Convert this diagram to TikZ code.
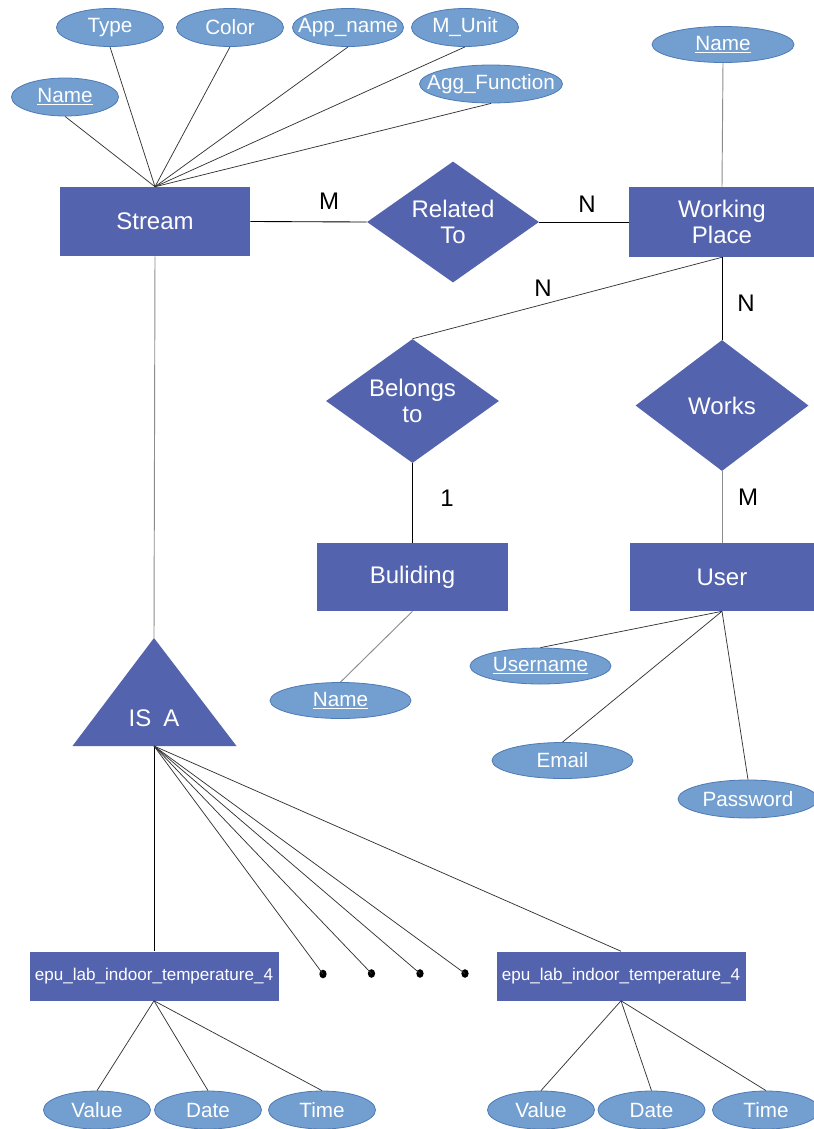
\documentclass[tikz,border=0pt]{standalone}
\usepackage{fontspec}
\setmainfont{Liberation Sans}
\usetikzlibrary{shapes.geometric}
\definecolor{entc}{RGB}{84,99,174}
\definecolor{attc}{RGB}{114,159,207}
\definecolor{attbc}{RGB}{78,122,182}
\newcommand{\zb}[1]{\makebox[0pt]{#1}}
\tikzset{
  sz/.style 2 args={minimum width=#1*0.75pt, minimum height=#2*0.75pt},
  ent/.style={rectangle, fill=entc, text=white, inner sep=0pt, align=center, font=\fontsize{18}{20}\selectfont},
  rel/.style={diamond, fill=entc, text=white, inner sep=0pt, aspect=1.42, align=center, font=\fontsize{18}{20}\selectfont},
  att/.style={ellipse, fill=attc, draw=attbc, line width=0.6pt, inner sep=0pt, text=white, font=\fontsize{15.5}{17}\selectfont, sz={107}{38}},
  sub/.style={rectangle, fill=entc, text=white, inner sep=0pt, font=\fontsize{12.8}{14}\selectfont, sz={249}{49}},
  ln/.style={black!80, line width=0.55pt},
  gln/.style={black!45, line width=0.7pt},
  rln/.style={black, line width=0.65pt},
  card/.style={text=black, font=\fontsize{18}{20}\selectfont},
  dotn/.style={ellipse, fill=black, inner sep=0pt, minimum width=5.5pt, minimum height=6.5pt}
}
\begin{document}
\begin{tikzpicture}[x=0.75pt,y=-0.75pt]
\fill[white] (0,0) rectangle (814,1129);
\useasboundingbox (0,0) rectangle (814,1129);

% entities
\node[ent, sz={190}{69}] (stream) at (155,221.5) {Stream};
\node[ent, sz={186}{70}] (wp) at (722,222) {Working\\Place};
\node[ent, sz={191}{68}] (bld) at (412.5,577) {Buliding};
\node[ent, sz={185}{68}] (user) at (722,577) {User};

% relationships
\node[rel, sz={172}{121}] (relto) at (453,222) {Related\\To};
\node[rel, sz={173}{124}] (belongs) at (412.5,401) {Belongs\\to};
\node[rel, sz={173}{131}] (works) at (722,405.5) {Works};

% IS A triangle
\coordinate (isaTop) at (154,638);
\coordinate (isaBase) at (154,746);
\fill[entc] (isaTop) -- (72.5,746) -- (236.5,746) -- cycle;
\node[text=white, font=\fontsize{18}{20}\selectfont] (isa) at (154,718) {IS\hspace{0.5em}A};

% subclasses
\node[sub] (sub1) at (154,976) {epu\_lab\_indoor\_temperature\_4};
\node[sub] (sub2) at (621,976) {epu\_lab\_indoor\_temperature\_4};

% dots
\node[dotn] (d1) at (323,974) {};
\node[dotn] (d2) at (371.5,973.5) {};
\node[dotn] (d3) at (420,973.5) {};
\node[dotn] (d4) at (465,973.5) {};

% stream attributes
\node[att] (sname) at (65,97) {\zb{\underline{Name}}};
\node[att] (stype) at (110,27.5) {\zb{Type}};
\node[att] (scolor) at (230,27.5) {\zb{Color}};
\node[att, sz={111}{38}] (sapp) at (348,27.5) {\zb{App\_name}};
\node[att] (sunit) at (465,27.5) {\zb{M\_Unit}};
\node[att, sz={143}{38}] (sagg) at (491,84) {\zb{Agg\_Function}};

% working place attribute
\node[att, sz={142}{36}] (wpname) at (723,44.5) {\zb{\underline{Name}}};

% building attribute
\node[att, sz={141}{36}] (bname) at (340.5,700.5) {\zb{\underline{Name}}};

% user attributes
\node[att, sz={141}{36}] (uname) at (540.5,666) {\zb{\underline{Username}}};
\node[att, sz={141}{36}] (email) at (562.5,760.5) {\zb{Email}};
\node[att, sz={140}{38}] (pwd) at (748,799) {\zb{Password}};

% sub attributes
\node[att] (v1) at (97,1110) {\zb{Value}};
\node[att] (dt1) at (208,1110) {\zb{Date}};
\node[att] (t1) at (322,1110) {\zb{Time}};
\node[att] (v2) at (541,1110) {\zb{Value}};
\node[att] (dt2) at (651.5,1110) {\zb{Date}};
\node[att] (t2) at (766,1110) {\zb{Time}};

% connectors: stream attributes
\foreach \a in {sname,stype,scolor,sapp,sunit,sagg}
  \draw[ln] (stream.north) -- (\a.south);
\draw[gln] (wp.north) -- (wpname.south);

% relationships
\draw[rln] (stream.east) -- (relto.west);
\draw[rln] (relto.east) -- (wp.west);
\draw[ln] (wp.south) -- (belongs.north);
\draw[rln] (wp.south) -- (works.north);
\draw[rln] (belongs.south) -- (bld.north);
\draw[gln] (works.south) -- (user.north);

% cardinalities
\node[card] (cM1) at (329,201) {M};
\node[card] (cN1) at (587,204) {N};
\node[card] (cN2) at (543,288) {N};
\node[card] (cN3) at (746,303) {N};
\node[card] (c1) at (447,498) {1};
\node[card] (cM2) at (748,497) {M};

% building / user attributes
\draw[gln] (bld.south) -- (bname.north);
\draw[ln] (user.south) -- (uname.north);
\draw[ln] (user.south) -- (email.north);
\draw[ln] (user.south) -- (pwd.north);

% IS A
\draw[gln] (stream.south) -- (isaTop);
\draw[rln] (isaBase) -- (sub1.north);
\draw[ln] (isaBase) -- (sub2.north);
\foreach \d in {d1,d2,d3,d4}
  \draw[ln] (isaBase) -- (\d.center);

% sub attributes
\foreach \a in {v1,dt1,t1} \draw[ln] (sub1.south) -- (\a.north);
\foreach \a in {v2,dt2,t2} \draw[ln] (sub2.south) -- (\a.north);
\end{tikzpicture}
\end{document}
